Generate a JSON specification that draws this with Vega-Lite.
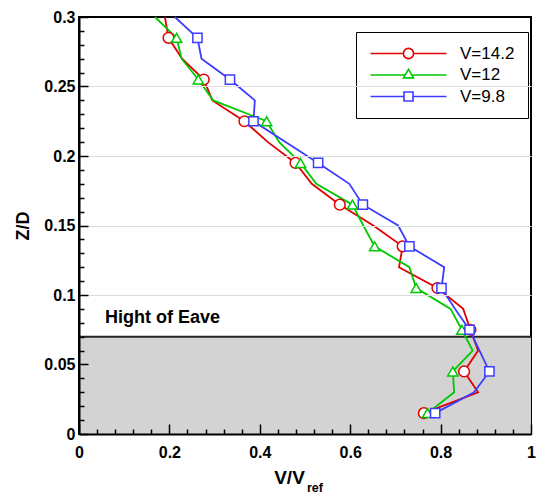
{
  "$schema": "https://vega.github.io/schema/vega-lite/v6.json",
  "width": 452,
  "height": 417,
  "autosize": "none",
  "padding": {"left": 79, "top": 17, "right": 9, "bottom": 64},
  "background": "white",
  "config": {
    "view": {"stroke": "black", "strokeWidth": 2},
    "font": "Liberation Sans"
  },
  "datasets": {
    "profiles": [
      {"s": "V=14.2", "z": 0.3, "v": 0.19, "m": false},
      {"s": "V=14.2", "z": 0.285, "v": 0.198, "m": true},
      {"s": "V=14.2", "z": 0.27, "v": 0.228, "m": false},
      {"s": "V=14.2", "z": 0.255, "v": 0.276, "m": true},
      {"s": "V=14.2", "z": 0.24, "v": 0.295, "m": false},
      {"s": "V=14.2", "z": 0.225, "v": 0.366, "m": true},
      {"s": "V=14.2", "z": 0.21, "v": 0.418, "m": false},
      {"s": "V=14.2", "z": 0.195, "v": 0.479, "m": true},
      {"s": "V=14.2", "z": 0.18, "v": 0.515, "m": false},
      {"s": "V=14.2", "z": 0.165, "v": 0.577, "m": true},
      {"s": "V=14.2", "z": 0.15, "v": 0.651, "m": false},
      {"s": "V=14.2", "z": 0.135, "v": 0.716, "m": true},
      {"s": "V=14.2", "z": 0.12, "v": 0.708, "m": false},
      {"s": "V=14.2", "z": 0.105, "v": 0.793, "m": true},
      {"s": "V=14.2", "z": 0.09, "v": 0.85, "m": false},
      {"s": "V=14.2", "z": 0.075, "v": 0.866, "m": true},
      {"s": "V=14.2", "z": 0.06, "v": 0.883, "m": false},
      {"s": "V=14.2", "z": 0.045, "v": 0.852, "m": true},
      {"s": "V=14.2", "z": 0.03, "v": 0.883, "m": false},
      {"s": "V=14.2", "z": 0.015, "v": 0.763, "m": true},
      {"s": "V=12", "z": 0.3, "v": 0.168, "m": false},
      {"s": "V=12", "z": 0.285, "v": 0.216, "m": true},
      {"s": "V=12", "z": 0.27, "v": 0.227, "m": false},
      {"s": "V=12", "z": 0.255, "v": 0.264, "m": true},
      {"s": "V=12", "z": 0.24, "v": 0.297, "m": false},
      {"s": "V=12", "z": 0.225, "v": 0.415, "m": true},
      {"s": "V=12", "z": 0.21, "v": 0.443, "m": false},
      {"s": "V=12", "z": 0.195, "v": 0.49, "m": true},
      {"s": "V=12", "z": 0.18, "v": 0.525, "m": false},
      {"s": "V=12", "z": 0.165, "v": 0.605, "m": true},
      {"s": "V=12", "z": 0.15, "v": 0.629, "m": false},
      {"s": "V=12", "z": 0.135, "v": 0.654, "m": true},
      {"s": "V=12", "z": 0.12, "v": 0.731, "m": false},
      {"s": "V=12", "z": 0.105, "v": 0.746, "m": true},
      {"s": "V=12", "z": 0.09, "v": 0.822, "m": false},
      {"s": "V=12", "z": 0.075, "v": 0.847, "m": true},
      {"s": "V=12", "z": 0.06, "v": 0.871, "m": false},
      {"s": "V=12", "z": 0.045, "v": 0.827, "m": true},
      {"s": "V=12", "z": 0.03, "v": 0.83, "m": false},
      {"s": "V=12", "z": 0.015, "v": 0.771, "m": true},
      {"s": "V=9.8", "z": 0.3, "v": 0.212, "m": false},
      {"s": "V=9.8", "z": 0.285, "v": 0.262, "m": true},
      {"s": "V=9.8", "z": 0.27, "v": 0.271, "m": false},
      {"s": "V=9.8", "z": 0.255, "v": 0.334, "m": true},
      {"s": "V=9.8", "z": 0.24, "v": 0.389, "m": false},
      {"s": "V=9.8", "z": 0.225, "v": 0.386, "m": true},
      {"s": "V=9.8", "z": 0.21, "v": 0.457, "m": false},
      {"s": "V=9.8", "z": 0.195, "v": 0.529, "m": true},
      {"s": "V=9.8", "z": 0.18, "v": 0.598, "m": false},
      {"s": "V=9.8", "z": 0.165, "v": 0.628, "m": true},
      {"s": "V=9.8", "z": 0.15, "v": 0.706, "m": false},
      {"s": "V=9.8", "z": 0.135, "v": 0.731, "m": true},
      {"s": "V=9.8", "z": 0.12, "v": 0.808, "m": false},
      {"s": "V=9.8", "z": 0.105, "v": 0.802, "m": true},
      {"s": "V=9.8", "z": 0.09, "v": 0.832, "m": false},
      {"s": "V=9.8", "z": 0.075, "v": 0.864, "m": true},
      {"s": "V=9.8", "z": 0.06, "v": 0.886, "m": false},
      {"s": "V=9.8", "z": 0.045, "v": 0.908, "m": true},
      {"s": "V=9.8", "z": 0.03, "v": 0.874, "m": false},
      {"s": "V=9.8", "z": 0.015, "v": 0.788, "m": true}
    ]
  },
  "layer": [
    {
      "data": {"values": [{"zone": "eave"}]},
      "mark": {"type": "rect", "fill": "#d3d3d3"},
      "encoding": {
        "x": {"datum": 0, "type": "quantitative", "scale": {"domain": [0, 1], "nice": false, "zero": false},
          "axis": {"values": [0, 0.04, 0.08, 0.12, 0.16, 0.2, 0.24, 0.28, 0.32, 0.36, 0.4, 0.44, 0.48, 0.52, 0.56, 0.6, 0.64, 0.68, 0.72, 0.76, 0.8, 0.84, 0.88, 0.92, 0.96, 1]}},
        "x2": {"datum": 1},
        "y": {"datum": 0, "type": "quantitative", "scale": {"domain": [0, 0.3], "nice": false},
          "axis": {"values": [0, 0.01, 0.02, 0.03, 0.04, 0.05, 0.06, 0.07, 0.08, 0.09, 0.1, 0.11, 0.12, 0.13, 0.14, 0.15, 0.16, 0.17, 0.18, 0.19, 0.2, 0.21, 0.22, 0.23, 0.24, 0.25, 0.26, 0.27, 0.28, 0.29, 0.3]}},
        "y2": {"datum": 0.07}
      }
    },
    {
      "data": {"values": [{"zone": "eave"}]},
      "mark": {"type": "rule", "stroke": "#222222", "strokeWidth": 2},
      "encoding": {
        "y": {"datum": 0.07, "type": "quantitative", "scale": {"domain": [0, 0.3], "nice": false},
          "axis": {"values": [0, 0.01, 0.02, 0.03, 0.04, 0.05, 0.06, 0.07, 0.08, 0.09, 0.1, 0.11, 0.12, 0.13, 0.14, 0.15, 0.16, 0.17, 0.18, 0.19, 0.2, 0.21, 0.22, 0.23, 0.24, 0.25, 0.26, 0.27, 0.28, 0.29, 0.3]}}
      }
    },
    {
      "data": {"values": [{"label": "Hight of Eave"}]},
      "mark": {"type": "text", "align": "left", "baseline": "alphabetic", "font": "Liberation Sans", "fontSize": 18, "fontWeight": "bold", "fill": "black"},
      "encoding": {
        "text": {"field": "label"},
        "x": {"datum": 0.0575, "type": "quantitative", "scale": {"domain": [0, 1], "nice": false, "zero": false},
          "axis": {"values": [0, 0.04, 0.08, 0.12, 0.16, 0.2, 0.24, 0.28, 0.32, 0.36, 0.4, 0.44, 0.48, 0.52, 0.56, 0.6, 0.64, 0.68, 0.72, 0.76, 0.8, 0.84, 0.88, 0.92, 0.96, 1]}},
        "y": {"datum": 0.0801, "type": "quantitative", "scale": {"domain": [0, 0.3], "nice": false},
          "axis": {"values": [0, 0.01, 0.02, 0.03, 0.04, 0.05, 0.06, 0.07, 0.08, 0.09, 0.1, 0.11, 0.12, 0.13, 0.14, 0.15, 0.16, 0.17, 0.18, 0.19, 0.2, 0.21, 0.22, 0.23, 0.24, 0.25, 0.26, 0.27, 0.28, 0.29, 0.3]}}
      }
    },
    {
      "data": {"values": [{"label": "ref"}]},
      "mark": {"type": "text", "align": "left", "baseline": "alphabetic", "font": "Liberation Sans", "fontSize": 12.5, "fontWeight": "bold", "fill": "black", "clip": false},
      "encoding": {
        "text": {"field": "label"},
        "x": {"datum": 0.5044, "type": "quantitative", "scale": {"domain": [0, 1], "nice": false, "zero": false},
          "axis": {"values": [0, 0.04, 0.08, 0.12, 0.16, 0.2, 0.24, 0.28, 0.32, 0.36, 0.4, 0.44, 0.48, 0.52, 0.56, 0.6, 0.64, 0.68, 0.72, 0.76, 0.8, 0.84, 0.88, 0.92, 0.96, 1]}},
        "y": {"datum": -0.0415, "type": "quantitative", "scale": {"domain": [0, 0.3], "nice": false},
          "axis": {"values": [0, 0.01, 0.02, 0.03, 0.04, 0.05, 0.06, 0.07, 0.08, 0.09, 0.1, 0.11, 0.12, 0.13, 0.14, 0.15, 0.16, 0.17, 0.18, 0.19, 0.2, 0.21, 0.22, 0.23, 0.24, 0.25, 0.26, 0.27, 0.28, 0.29, 0.3]}}
      }
    },
    {
      "data": {"name": "profiles"},
      "encoding": {
        "x": {
          "field": "v", "type": "quantitative",
          "scale": {"domain": [0, 1], "nice": false, "zero": false},
          "axis": {
            "zindex": 1,
            "title": "V/V",
            "titleFont": "Liberation Sans", "titleFontSize": 19, "titleFontWeight": "bold", "titleColor": "black",
            "titleX": 210, "titleY": 49, "titleAlign": "center", "titleBaseline": "alphabetic", "titleAnchor": null,
            "values": [0, 0.04, 0.08, 0.12, 0.16, 0.2, 0.24, 0.28, 0.32, 0.36, 0.4, 0.44, 0.48, 0.52, 0.56, 0.6, 0.64, 0.68, 0.72, 0.76, 0.8, 0.84, 0.88, 0.92, 0.96, 1],
            "labelExpr": "abs(datum.value*5 - round(datum.value*5)) < 0.001 ? format(datum.value, '~g') : ''",
            "labelFont": "Liberation Sans", "labelFontSize": 16, "labelFontWeight": "bold", "labelColor": "black",
            "labelFlush": false, "labelOverlap": false, "labelPadding": 20,
            "ticks": true,
            "tickSize": {"condition": {"test": "abs(datum.value*5 - round(datum.value*5)) < 0.001", "value": -10}, "value": -5},
            "tickColor": "black", "tickWidth": 1.5, "tickOpacity": 1,
            "domainColor": "black", "domainWidth": 2,
            "grid": false
          }
        },
        "y": {
          "field": "z", "type": "quantitative",
          "scale": {"domain": [0, 0.3], "nice": false},
          "axis": {
            "zindex": 1,
            "title": "Z/D",
            "titleFont": "Liberation Sans", "titleFontSize": 18, "titleFontWeight": "bold", "titleColor": "black",
            "titleX": -56, "titleY": 208.5, "titleAngle": 270, "titleAlign": "center", "titleBaseline": "middle", "titleAnchor": null,
            "values": [0, 0.01, 0.02, 0.03, 0.04, 0.05, 0.06, 0.07, 0.08, 0.09, 0.1, 0.11, 0.12, 0.13, 0.14, 0.15, 0.16, 0.17, 0.18, 0.19, 0.2, 0.21, 0.22, 0.23, 0.24, 0.25, 0.26, 0.27, 0.28, 0.29, 0.3],
            "labelExpr": "abs(datum.value*20 - round(datum.value*20)) < 0.001 ? format(datum.value, '~g') : ''",
            "labelFont": "Liberation Sans", "labelFontSize": 16, "labelFontWeight": "bold", "labelColor": "black",
            "labelFlush": false, "labelOverlap": false, "labelPadding": 13,
            "ticks": true,
            "tickSize": {"condition": {"test": "abs(datum.value*20 - round(datum.value*20)) < 0.001", "value": -9}, "value": -5},
            "tickColor": "black", "tickWidth": 1.5, "tickOpacity": 1,
            "domainColor": "black", "domainWidth": 2,
            "grid": true, "gridColor": "#dcdcdc", "gridWidth": 1.2,
            "gridOpacity": {"condition": {"test": "abs(datum.value*20 - round(datum.value*20)) < 0.001 && datum.value > 0.075 && datum.value < 0.29", "value": 1}, "value": 0}
          }
        },
        "stroke": {
          "field": "s", "type": "nominal",
          "scale": {"domain": ["V=14.2", "V=12", "V=9.8"], "range": ["#e00000", "#00c800", "#3c3cff"]},
          "legend": {
            "title": null, "orient": "none", "legendX": 277, "legendY": 15,
            "strokeColor": "black", "fillColor": "white", "padding": 13, "cornerRadius": 0,
            "labelFont": "Liberation Sans", "labelFontSize": 17, "labelColor": "black",
            "symbolSize": 144, "symbolOffset": 31, "labelOffset": 43, "rowPadding": 3.5,
            "symbolStrokeWidth": 1.6, "symbolFillColor": "white",
            "encode": {
              "symbols": {
                "update": {
                  "fill": {"value": "white"},
                  "shape": {"signal": "datum.value === 'V=14.2' ? 'M-6.33,0H-0.85M0.85,0H6.33M0.85,0A0.85,0.85 0 1,1 -0.85,0A0.85,0.85 0 1,1 0.85,0Z' : datum.value === 'V=12' ? 'M-6.33,0H-0.55M0.55,0H6.33M-0.833,0.48L0.833,0.48L0,-0.96Z' : 'M-6.33,0H-0.75M0.75,0H6.33M-0.75,-0.75H0.75V0.75H-0.75Z'"}
                }
              }
            }
          }
        }
      },
      "layer": [
        {
          "mark": {"type": "line", "strokeWidth": 1.8},
          "encoding": {"order": {"field": "z", "type": "quantitative", "sort": "descending"}}
        },
        {
          "transform": [{"filter": "datum.m && datum.s === 'V=14.2'"}],
          "mark": {"type": "point", "shape": "circle", "fill": "white", "fillOpacity": 1, "opacity": 1, "strokeWidth": 1.5, "size": 115}
        },
        {
          "transform": [{"filter": "datum.m && datum.s === 'V=12'"}],
          "mark": {"type": "point", "shape": "triangle-up", "fill": "white", "fillOpacity": 1, "opacity": 1, "strokeWidth": 1.5, "size": 105}
        },
        {
          "transform": [{"filter": "datum.m && datum.s === 'V=9.8'"}],
          "mark": {"type": "point", "shape": "square", "fill": "white", "fillOpacity": 1, "opacity": 1, "strokeWidth": 1.5, "size": 85}
        }
      ]
    }
  ]
}
